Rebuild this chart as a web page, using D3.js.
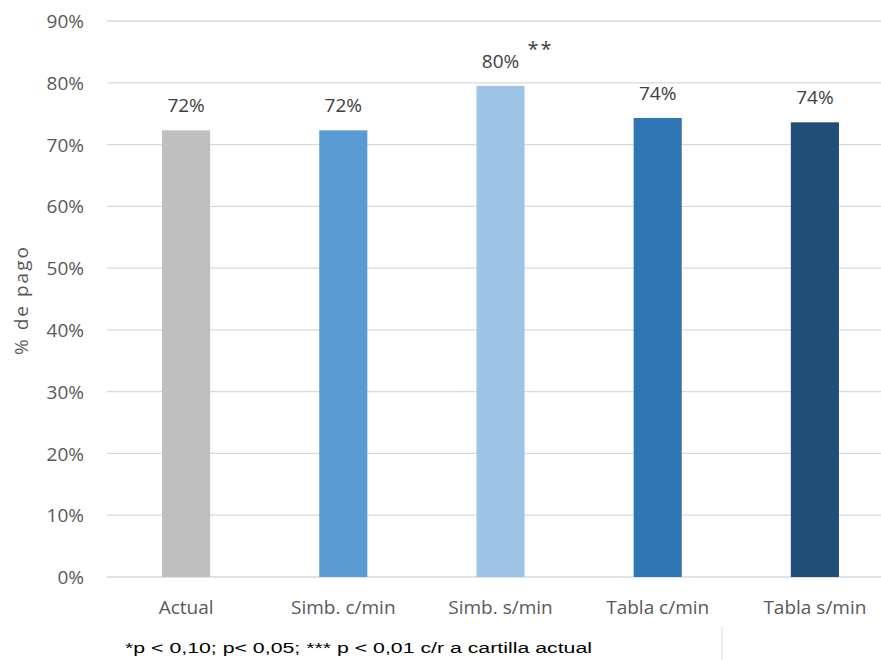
<!DOCTYPE html>
<html><head><meta charset="utf-8">
<script src="https://cdn.jsdelivr.net/npm/d3@7"></script>
<style>body{margin:0;background:#fff}svg{display:block}</style>
</head><body>
<svg id="c" width="881" height="660"></svg>
<script>
const categories = ["Actual","Simb. c/min","Simb. s/min","Tabla c/min","Tabla s/min"];
const values = [0.723, 0.723, 0.795, 0.743, 0.736];
const valueLabels = ["72%","72%","80%","74%","74%"];
const significance = ["","","**","",""];
const colors = ["#bfbfbf","#5b9bd5","#9dc3e6","#2e75b6","#1f4e79"];
const yTicks = [0,0.1,0.2,0.3,0.4,0.5,0.6,0.7,0.8,0.9];
const yTitle = "% de pago";
const footnote = "*p < 0,10; p< 0,05; *** p < 0,01 c/r a cartilla actual";

const svg = d3.select("#c");
const font = "'Open Sans', 'Liberation Sans', sans-serif";
const x = d3.scaleBand().domain(categories).range([107.5, 893.5]).paddingInner(0.694).paddingOuter(0.347);
const y = d3.scaleLinear().domain([0, 0.9]).range([577, 21]);

// gridlines
svg.append("g").selectAll("line").data(yTicks).join("line")
  .attr("x1", 107).attr("x2", 881)
  .attr("y1", d => y(d)).attr("y2", d => y(d))
  .attr("stroke", "#d9d9d9").attr("stroke-width", 1.3);

// y axis labels
const yAxis = d3.axisLeft(y).tickValues(yTicks).tickFormat(d3.format(".0%")).tickSize(0).tickPadding(0);
const ya = svg.append("g").attr("transform", "translate(84,0)").call(yAxis);
ya.select(".domain").remove();
ya.selectAll("text").attr("font-family", font).attr("font-size", 19).attr("fill", "#595959").attr("dy", "0.35em");

// x axis labels
const xAxis = d3.axisBottom(x).tickSize(0).tickPadding(0);
const xa = svg.append("g").attr("transform", "translate(0,607)").call(xAxis);
xa.select(".domain").remove();
xa.selectAll("text").attr("font-family", font).attr("font-size", 19).attr("fill", "#595959").attr("dy", "0.35em");

// bars
svg.append("g").selectAll("rect").data(categories).join("rect")
  .attr("x", d => x(d)).attr("width", x.bandwidth())
  .attr("y", (d,i) => y(values[i])).attr("height", (d,i) => y(0) - y(values[i]))
  .attr("fill", (d,i) => colors[i]);

// value labels
svg.append("g").selectAll("text").data(categories).join("text")
  .attr("x", d => x(d) + x.bandwidth()/2)
  .attr("y", (d,i) => y(values[i]) - 18)
  .attr("text-anchor", "middle")
  .attr("font-family", font).attr("font-size", 19).attr("fill", "#404040")
  .text((d,i) => valueLabels[i]);

// significance stars
svg.append("g").selectAll("text").data(categories.filter((d,i) => significance[i])).join("text")
  .attr("x", d => x(d) + x.bandwidth()/2 + 27)
  .attr("y", d => y(values[categories.indexOf(d)]) - 30)
  .attr("font-family", font).attr("font-size", 20).attr("letter-spacing", 2).attr("fill", "#404040")
  .text(d => significance[categories.indexOf(d)]);

// y title
svg.append("text")
  .attr("transform", "translate(28,300) rotate(-90)")
  .attr("text-anchor", "middle")
  .attr("font-family", font).attr("font-size", 19).attr("letter-spacing", 2).attr("fill", "#595959")
  .text(yTitle);

// footnote
svg.append("text").attr("x", 125).attr("y", 653)
  .attr("font-family", "'Liberation Sans', Arial, sans-serif").attr("font-size", 14).attr("fill", "#000")
  .attr("textLength", 467).attr("lengthAdjust", "spacingAndGlyphs")
  .text(footnote);

// separator line
svg.append("line").attr("x1", 722).attr("x2", 722).attr("y1", 627).attr("y2", 660)
  .attr("stroke", "#d9d9d9").attr("stroke-width", 1);
</script>
</body></html>
